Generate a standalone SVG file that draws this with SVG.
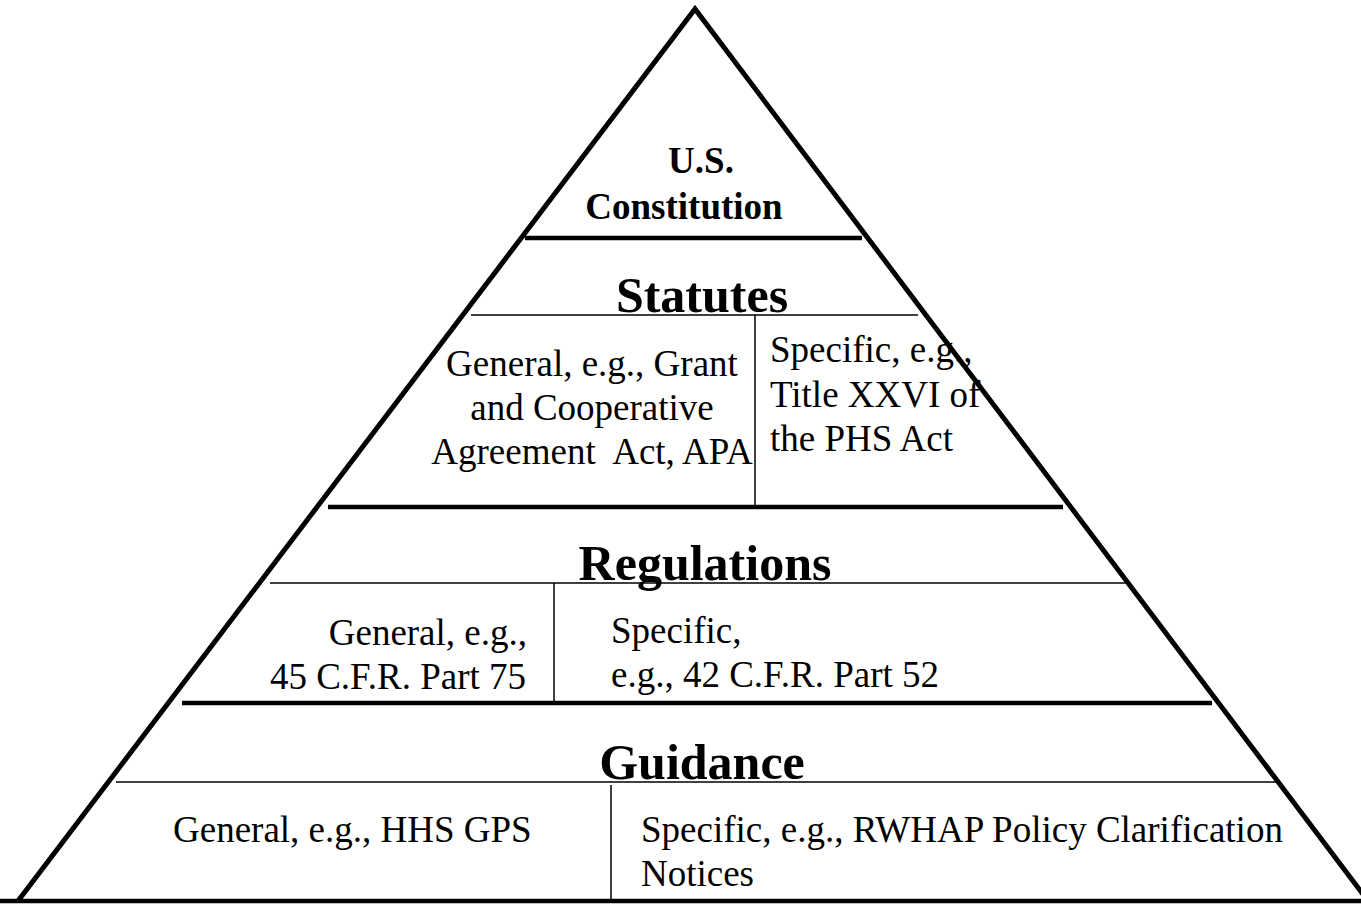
<svg xmlns="http://www.w3.org/2000/svg" width="1361" height="904" viewBox="0 0 1361 904">
  <style>
    .edge { fill: none; stroke: #000; stroke-width: 5; stroke-linejoin: miter; }
    .thick { stroke: #000; stroke-width: 4.5; }
    .thin { stroke: #000; stroke-width: 1.5; }
    .title { font-family: "Liberation Serif", "Times New Roman", serif; font-weight: bold; font-size: 50px; fill: #000; }
    .head { font-family: "Liberation Serif", "Times New Roman", serif; font-weight: bold; font-size: 37px; fill: #000; }
    .body { font-family: "Liberation Serif", "Times New Roman", serif; font-size: 37px; fill: #000; }
  </style>
  <rect width="1361" height="904" fill="#fff"/>

  <!-- pyramid outline and tier dividers -->
  <g id="connectors">
    <path class="edge" d="M 18 901 L 695 9 L 1368 901"/>
    <line class="thick" x1="0" y1="901" x2="1361" y2="901"/>
    <line class="thick" x1="525" y1="238" x2="862" y2="238"/>
    <line class="thick" x1="328" y1="507" x2="1063" y2="507"/>
    <line class="thick" x1="182" y1="703" x2="1212" y2="703"/>
  </g>

  <g id="constitution">
    <text class="head" x="701" y="173" text-anchor="middle">U.S.</text>
    <text class="head" x="684" y="219" text-anchor="middle">Constitution</text>
  </g>

  <g id="statutes">
    <text class="title" x="702" y="312" text-anchor="middle">Statutes</text>
    <line class="thin" x1="471" y1="315" x2="918" y2="315"/>
    <line class="thin" x1="755" y1="315" x2="755" y2="505"/>
    <text class="body" x="592" y="376" text-anchor="middle">General, e.g., Grant</text>
    <text class="body" x="592" y="420" text-anchor="middle">and Cooperative</text>
    <text class="body" x="592" y="464" text-anchor="middle" xml:space="preserve">Agreement  Act, APA</text>
    <text class="body" x="770" y="362">Specific, e.g.,</text>
    <text class="body" x="770" y="407">Title XXVI of</text>
    <text class="body" x="770" y="451">the PHS Act</text>
  </g>

  <g id="regulations">
    <text class="title" x="705" y="580" text-anchor="middle">Regulations</text>
    <line class="thin" x1="270" y1="583" x2="1128" y2="583"/>
    <line class="thin" x1="554" y1="583" x2="554" y2="701"/>
    <text class="body" x="527" y="645" text-anchor="end">General, e.g.,</text>
    <text class="body" x="526" y="689" text-anchor="end">45 C.F.R. Part 75</text>
    <text class="body" x="611" y="643">Specific,</text>
    <text class="body" x="611" y="687">e.g., 42 C.F.R. Part 52</text>
  </g>

  <g id="guidance">
    <text class="title" x="702" y="779" text-anchor="middle">Guidance</text>
    <line class="thin" x1="116" y1="782" x2="1278" y2="782"/>
    <line class="thin" x1="611" y1="785" x2="611" y2="900"/>
    <text class="body" x="173" y="842">General, e.g., HHS GPS</text>
    <text class="body" x="641" y="842">Specific, e.g., RWHAP Policy Clarification</text>
    <text class="body" x="641" y="886">Notices</text>
  </g>
</svg>
